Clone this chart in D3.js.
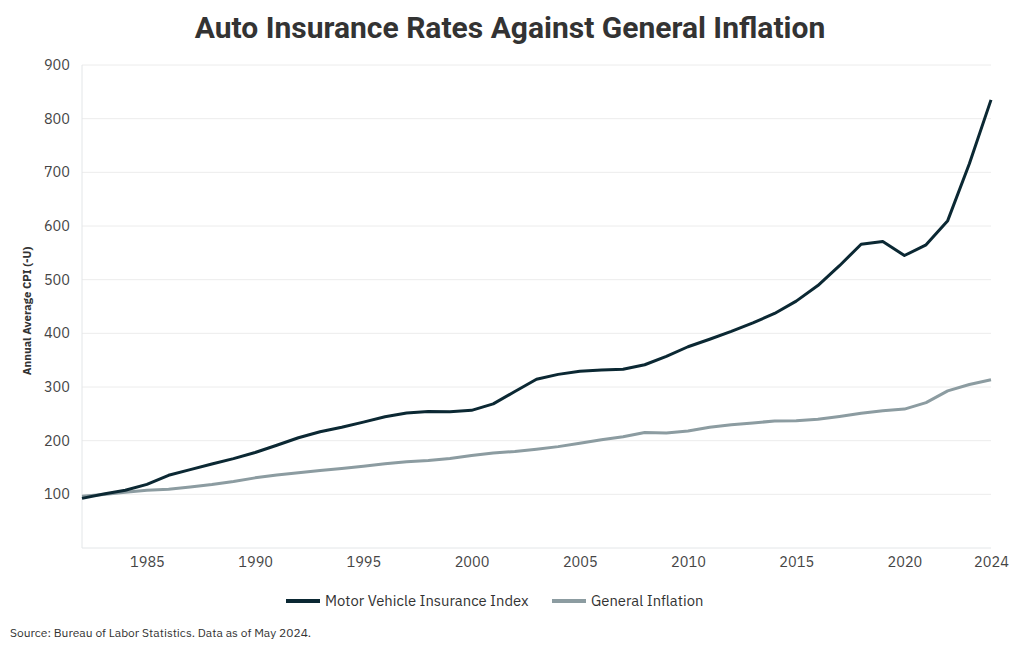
<!DOCTYPE html>
<html>
<head>
<meta charset="utf-8">
<script src="https://cdn.jsdelivr.net/npm/d3@7"></script>
<style>
  body { margin: 0; background: #fff; }
  svg { display: block; }
</style>
</head>
<body>
<svg id="chart" width="1020" height="650"></svg>
<script>
const years = d3.range(1982, 2025);
const motorInsurance = [92.5, 100.5, 107.5, 118.5, 135.5, 146, 156.5, 166.5, 178, 191.5, 205.5, 216.5, 225, 234.5, 244.5, 251.5, 254.5, 254, 256.5, 268.5, 291.5, 314.5, 323.5, 329.5, 331.5, 333, 341.5, 357, 375, 389, 403.5, 419.5, 437, 460, 489, 526, 566, 571, 545, 565, 610, 716, 835];
const generalInflation = [96.5, 99.6, 103.9, 107.6, 109.6, 113.6, 118.3, 124.0, 130.7, 136.2, 140.3, 144.5, 148.2, 152.4, 156.9, 160.5, 163.0, 166.6, 172.2, 177.1, 179.9, 184.0, 188.9, 195.3, 201.6, 207.3, 215.3, 214.5, 218.1, 224.9, 229.6, 233.0, 236.7, 237.0, 240.0, 245.1, 251.1, 255.7, 258.8, 271.0, 292.7, 304.7, 313.5];
const xTicks = [1985, 1990, 1995, 2000, 2005, 2010, 2015, 2020, 2024];
const yTicks = [100, 200, 300, 400, 500, 600, 700, 800, 900];
const seriesNames = ["Motor Vehicle Insurance Index", "General Inflation"];
const seriesColors = ["#0b2833", "#8c9ca1"];

const svg = d3.select("#chart");
const font = "'IBM Plex Sans', 'Open Sans', 'Noto Sans', sans-serif";
const x = d3.scaleLinear().domain([1982, 2024]).range([82, 991]);
const y = d3.scaleLinear().domain([0, 900]).range([548, 65]);

// gridlines
svg.append("g").selectAll("line").data(yTicks).join("line")
  .attr("x1", 82).attr("x2", 991)
  .attr("y1", d => y(d)).attr("y2", d => y(d))
  .attr("stroke", "#ececec").attr("stroke-width", 1);

// axis lines
svg.append("line").attr("x1", 82).attr("x2", 82).attr("y1", y(900)).attr("y2", 548)
  .attr("stroke", "#e3e6e8");
svg.append("line").attr("x1", 82).attr("x2", 991).attr("y1", 548).attr("y2", 548)
  .attr("stroke", "#e3e6e8");

// y axis labels
const yAxis = svg.append("g").attr("transform", "translate(82,0)")
  .call(d3.axisLeft(y).tickValues(yTicks).tickSize(0).tickPadding(12));
yAxis.select(".domain").remove();
yAxis.selectAll("text").attr("font-family", font).attr("font-size", 14.5).attr("fill", "#444");

// x axis labels
const xAxis = svg.append("g").attr("transform", "translate(0,548)")
  .call(d3.axisBottom(x).tickValues(xTicks).tickFormat(d3.format("d")).tickSize(0).tickPadding(9));
xAxis.select(".domain").remove();
xAxis.selectAll("text").attr("font-family", font).attr("font-size", 14.5).attr("fill", "#444");

// y axis title
svg.append("text")
  .attr("transform", "translate(31,311) rotate(-90)")
  .attr("text-anchor", "middle")
  .attr("font-family", font).attr("font-size", 11.3).attr("font-weight", "bold").attr("fill", "#333")
  .text("Annual Average CPI (-U)");

// lines
const line = d3.line().x((d, i) => x(years[i])).y(d => y(d));
svg.append("path").datum(generalInflation).attr("d", line)
  .attr("fill", "none").attr("stroke", seriesColors[1]).attr("stroke-width", 3).attr("stroke-linejoin", "round");
svg.append("path").datum(motorInsurance).attr("d", line)
  .attr("fill", "none").attr("stroke", seriesColors[0]).attr("stroke-width", 3).attr("stroke-linejoin", "round");

// title
const title = svg.append("text")
  .attr("x", 510).attr("y", 38).attr("text-anchor", "middle")
  .attr("font-family", "'Liberation Sans Narrow', 'Roboto', sans-serif")
  .attr("font-size", 30).attr("font-weight", "bold").attr("fill", "#333")
  .text("Auto Insurance Rates Against General Inflation");
const tw = title.node().getComputedTextLength();
if (Math.abs(tw - 636) > 8) title.attr("textLength", 636).attr("lengthAdjust", "spacingAndGlyphs");

// legend
const legendX = [286, 552];
const lg = svg.append("g").selectAll("g").data(seriesNames).join("g")
  .attr("transform", (d, i) => `translate(${legendX[i]},601)`);
lg.append("line").attr("x1", 0).attr("x2", 34).attr("y1", 0).attr("y2", 0)
  .attr("stroke", (d, i) => seriesColors[i]).attr("stroke-width", 4);
lg.append("text").attr("x", 39).attr("y", 5)
  .attr("font-family", font).attr("font-size", 14.8).attr("fill", "#333")
  .text(d => d);

// source
svg.append("text").attr("x", 10).attr("y", 637)
  .attr("font-family", font).attr("font-size", 12).attr("fill", "#333")
  .text("Source: Bureau of Labor Statistics. Data as of May 2024.");
</script>
</body>
</html>
